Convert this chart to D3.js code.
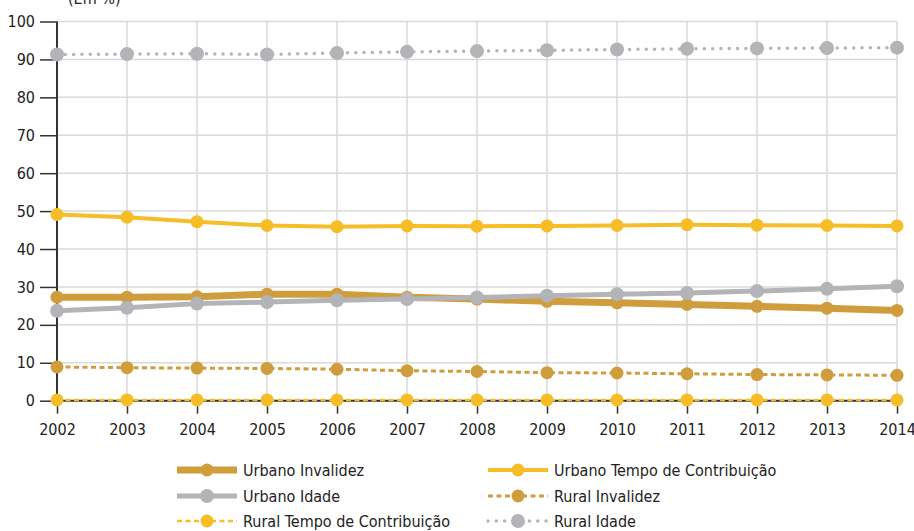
<!DOCTYPE html>
<html>
<head>
<meta charset="utf-8">
<script src="https://cdn.jsdelivr.net/npm/d3@7"></script>
<style>
  body { margin: 0; background: #fff; }
  svg text { font-family: "Liberation Sans Narrow", "DejaVu Sans Condensed", "Roboto Condensed", sans-serif; fill: #222; }
</style>
</head>
<body>
<div id="main"></div>
<script>
// data
var years = [2002, 2003, 2004, 2005, 2006, 2007, 2008, 2009, 2010, 2011, 2012, 2013, 2014];
var urbanoInvalidez = [27.3, 27.3, 27.4, 28.1, 28.1, 27.3, 26.8, 26.2, 25.8, 25.4, 24.9, 24.4, 23.8];
var urbanoTempo = [49.1, 48.4, 47.2, 46.2, 45.9, 46.1, 46.0, 46.1, 46.2, 46.4, 46.3, 46.2, 46.1];
var urbanoIdade = [23.7, 24.5, 25.6, 26.0, 26.5, 26.8, 27.2, 27.7, 28.1, 28.4, 28.9, 29.5, 30.2];
var ruralInvalidez = [8.9, 8.7, 8.6, 8.5, 8.3, 7.9, 7.7, 7.4, 7.3, 7.1, 6.9, 6.8, 6.7];
var ruralTempo = [0.2, 0.2, 0.2, 0.2, 0.2, 0.2, 0.2, 0.2, 0.2, 0.2, 0.2, 0.2, 0.2];
var ruralIdade = [91.3, 91.4, 91.5, 91.3, 91.7, 92.0, 92.2, 92.4, 92.6, 92.8, 92.9, 93.0, 93.1];
var yTicks = [0, 10, 20, 30, 40, 50, 60, 70, 80, 90, 100];

var gold = '#cf9d3b';
var yellow = '#f7bd27';
var gray = '#b2b4b8';

// drawing order matters: gold invalidez goes under the gray idade line
var series = [
  { name: 'Urbano Invalidez', values: urbanoInvalidez, color: gold, width: 7, dash: null, r: 6.5 },
  { name: 'Urbano Tempo de Contribuição', values: urbanoTempo, color: yellow, width: 4, dash: null, r: 6.5 },
  { name: 'Urbano Idade', values: urbanoIdade, color: gray, width: 5, dash: null, r: 7 },
  { name: 'Rural Invalidez', values: ruralInvalidez, color: gold, width: 3, dash: '5,3.5', r: 6.5 },
  { name: 'Rural Tempo de Contribuição', values: ruralTempo, color: yellow, width: 2.5, dash: '5,3.5', r: 6.5 },
  { name: 'Rural Idade', values: ruralIdade, color: gray, width: 3.5, dash: '0,8.3', r: 7, round: true }
];

var svgWidth = 914, svgHeight = 531;
var padding = { t: 21.5, l: 57, r: 17, b: 130.3 };
var cellWidth = svgWidth - padding.l - padding.r;
var cellHeight = svgHeight - padding.t - padding.b;
var fontSize = '16px';

var svg = d3.select('#main').append('svg')
  .attr('width', svgWidth)
  .attr('height', svgHeight);

// unit label, sits partly above the top edge like in the source
svg.append('text')
  .attr('x', 68)
  .attr('y', 4)
  .style('font-size', fontSize)
  .text('(Em %)');

var chartG = svg.append('g')
  .attr('transform', 'translate(' + [padding.l, padding.t] + ')');

var xScale = d3.scalePoint().domain(years).range([0, cellWidth]);
var yScale = d3.scaleLinear().domain([0, 100]).range([cellHeight, 0]);

// grid
chartG.append('g').selectAll('line.hgrid')
  .data(yTicks.slice(1))
  .enter().append('line')
  .attr('x1', 0).attr('x2', cellWidth)
  .attr('y1', (d) => yScale(d)).attr('y2', (d) => yScale(d))
  .attr('stroke', '#d9d9d9').attr('stroke-width', 1.5);

chartG.append('g').selectAll('line.vgrid')
  .data(years.slice(1))
  .enter().append('line')
  .attr('x1', (d) => xScale(d)).attr('x2', (d) => xScale(d))
  .attr('y1', 0).attr('y2', cellHeight)
  .attr('stroke', '#d9d9d9').attr('stroke-width', 1.5);

// axes
var yAxis = d3.axisLeft(yScale).tickValues(yTicks).tickSize(17).tickPadding(5);
var yG = chartG.append('g').call(yAxis);
yG.select('.domain').remove();

var xAxis = d3.axisBottom(xScale).tickSize(13).tickPadding(10);
var xG = chartG.append('g')
  .attr('transform', 'translate(' + [0, cellHeight] + ')')
  .call(xAxis);
xG.select('.domain').remove();

[yG, xG].forEach(function (g) {
  g.selectAll('.tick line').attr('stroke', '#333').attr('stroke-width', 1.5);
  g.selectAll('.tick text').style('font-size', fontSize).attr('fill', '#222');
});

chartG.append('line')
  .attr('x1', 0).attr('x2', 0).attr('y1', 0).attr('y2', cellHeight)
  .attr('stroke', '#333').attr('stroke-width', 2);
chartG.append('line')
  .attr('x1', 0).attr('x2', cellWidth).attr('y1', cellHeight).attr('y2', cellHeight)
  .attr('stroke', '#333').attr('stroke-width', 2);

// lines and markers
var line = d3.line()
  .x((d, i) => xScale(years[i]))
  .y((d) => yScale(d));

series.forEach(function (s) {
  var g = chartG.append('g');
  g.append('path')
    .attr('d', line(s.values))
    .attr('fill', 'none')
    .attr('stroke', s.color)
    .attr('stroke-width', s.width)
    .attr('stroke-dasharray', s.dash)
    .attr('stroke-linecap', s.round ? 'round' : 'butt');
  g.selectAll('circle')
    .data(s.values)
    .enter().append('circle')
    .attr('cx', (d, i) => xScale(years[i]))
    .attr('cy', (d) => yScale(d))
    .attr('r', s.r)
    .attr('fill', s.color);
});

// legend
var legendOrder = ['Urbano Invalidez', 'Urbano Tempo de Contribuição', 'Urbano Idade', 'Rural Invalidez', 'Rural Tempo de Contribuição', 'Rural Idade'];
var colX = [177, 488];
var rowY = [470, 496, 521];

legendOrder.forEach(function (name, i) {
  var s = series.find((d) => d.name == name);
  var x0 = colX[i % 2];
  var y0 = rowY[Math.floor(i / 2)];
  var lg = svg.append('g').attr('transform', 'translate(' + [x0, y0] + ')');
  lg.append('line')
    .attr('x1', 0).attr('x2', 60).attr('y1', 0).attr('y2', 0)
    .attr('stroke', s.color)
    .attr('stroke-width', s.width)
    .attr('stroke-dasharray', s.dash)
    .attr('stroke-linecap', s.round ? 'round' : 'butt');
  lg.append('circle')
    .attr('cx', 30).attr('cy', 0).attr('r', s.r)
    .attr('fill', s.color);
  lg.append('text')
    .attr('x', 66)
    .attr('y', 6)
    .style('font-size', fontSize)
    .text(name);
});
</script>
</body>
</html>
